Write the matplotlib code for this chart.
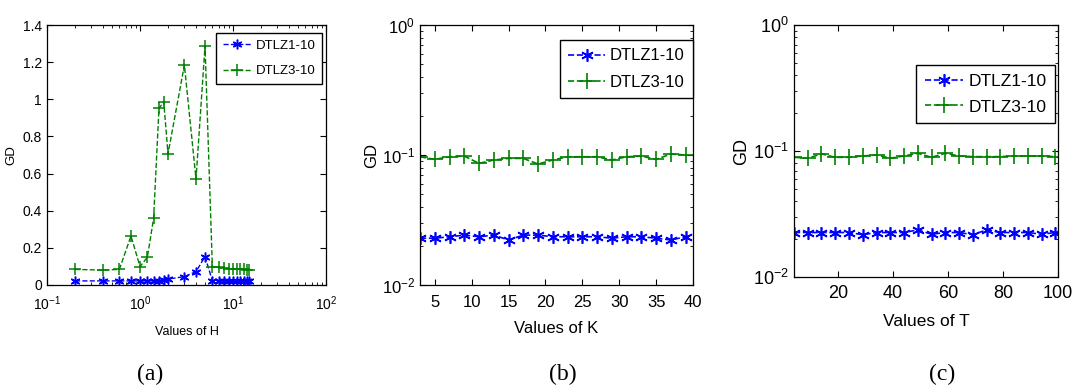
import numpy as np
import matplotlib
matplotlib.use("Agg")
import matplotlib.pyplot as plt

plt.rcParams['font.family'] = ['Liberation Sans', 'DejaVu Sans']
plt.rcParams['mathtext.fontset'] = 'custom'
plt.rcParams['mathtext.rm'] = 'Liberation Sans'
plt.rcParams['mathtext.default'] = 'rm'

# (a) values of H
h_vals = [0.2, 0.4, 0.6, 0.8, 1.0, 1.2, 1.4, 1.6, 1.8, 2, 3, 4, 5,
          6, 7, 8, 9, 10, 11, 12, 13, 14, 15]
h_dtlz1 = [0.022, 0.022, 0.022, 0.022, 0.022, 0.022, 0.022, 0.022, 0.027, 0.032,
           0.045, 0.072, 0.153, 0.022, 0.022, 0.022, 0.022, 0.022, 0.022, 0.022,
           0.022, 0.022, 0.022]
h_dtlz3 = [0.084, 0.080, 0.084, 0.264, 0.099, 0.149, 0.359, 0.951, 0.987, 0.706,
           1.185, 0.571, 1.287, 0.095, 0.095, 0.090, 0.088, 0.088, 0.087, 0.086,
           0.085, 0.083, 0.080]

# (b) values of K
k_vals = list(range(3, 40, 2))
k_dtlz1 = [0.0229, 0.0229, 0.0235, 0.0242, 0.0235, 0.0242, 0.0222, 0.0242, 0.0242, 0.0235,
           0.0235, 0.0235, 0.0235, 0.0229, 0.0235, 0.0235, 0.0229, 0.0222, 0.0235]
k_dtlz3 = [0.0970, 0.0926, 0.0970, 0.0981, 0.0863, 0.0916, 0.0942, 0.0942, 0.0853, 0.0916,
           0.0970, 0.0970, 0.0970, 0.0916, 0.0970, 0.0981, 0.0926, 0.1018, 0.1000]

# (c) values of T
t_vals = list(range(4, 100, 5))
t_dtlz1 = [0.0226, 0.0226, 0.0226, 0.0226, 0.0226, 0.0217, 0.0226, 0.0226, 0.0226, 0.0237,
           0.0219, 0.0226, 0.0226, 0.0217, 0.0237, 0.0226, 0.0226, 0.0226, 0.0219, 0.0226]
t_dtlz3 = [0.0893, 0.0878, 0.0950, 0.0893, 0.0893, 0.0915, 0.0932, 0.0878, 0.0915, 0.0961,
           0.0893, 0.0961, 0.0915, 0.0904, 0.0904, 0.0904, 0.0915, 0.0915, 0.0915, 0.0904]

blue = '#0000ff'
green = '#008000'
star = (6, 2, 0)  # matlab-like asterisk

fig = plt.figure(figsize=(10.75, 3.92), dpi=100)
ax_a = fig.add_axes([0.0437, 0.273, 0.2596, 0.663])
ax_b = fig.add_axes([0.3907, 0.273, 0.2540, 0.663])
ax_c = fig.add_axes([0.7386, 0.293, 0.2456, 0.643])


def style(ax, fs, xpad):
    ax.tick_params(direction='in', top=True, right=True, labelsize=fs, length=4)
    ax.tick_params(which='minor', direction='in', top=True, right=True, length=2)
    ax.tick_params(axis='x', pad=xpad)
    for s in ax.spines.values():
        s.set_linewidth(0.9)


def legend(ax, fs, anchor, spacing=0.6):
    ax.legend(loc='upper right', bbox_to_anchor=anchor, borderaxespad=0, fontsize=fs,
              fancybox=False, edgecolor='black', framealpha=1, handlelength=2.2,
              handletextpad=0.3, borderpad=0.5, labelspacing=spacing)


# panel (a)
ax_a.plot(h_vals, h_dtlz1, '--', color=blue, marker=star, ms=7, mew=1.1, lw=1, label='DTLZ1-10')
ax_a.plot(h_vals, h_dtlz3, '--', color=green, marker='+', ms=9, mew=1.1, lw=1, label='DTLZ3-10')
ax_a.set_xscale('log')
ax_a.set_xlim(0.1, 100)
ax_a.set_ylim(0, 1.4)
ax_a.set_yticks([0, 0.2, 0.4, 0.6, 0.8, 1, 1.2, 1.4])
ax_a.set_yticklabels(['0', '0.2', '0.4', '0.6', '0.8', '1', '1.2', '1.4'])
ax_a.yaxis.set_minor_locator(plt.NullLocator())
style(ax_a, 10, 7)
ax_a.set_xlabel('Values of H', fontsize=9, labelpad=9)
ax_a.set_ylabel('GD', fontsize=9.5, labelpad=4)
legend(ax_a, 9.5, (0.986, 0.969), spacing=1.0)

# panel (b)
ax_b.plot(k_vals, k_dtlz1, '--', color=blue, marker=star, ms=9, mew=1.2, lw=1.2, label='DTLZ1-10')
ax_b.plot(k_vals, k_dtlz3, '--', color=green, marker='+', ms=11, mew=1.2, lw=1.2, label='DTLZ3-10')
ax_b.set_yscale('log')
ax_b.set_xlim(3, 40)
ax_b.set_ylim(0.01, 1)
ax_b.set_xticks([5, 10, 15, 20, 25, 30, 35, 40])
style(ax_b, 12, 7)
ax_b.set_xlabel('Values of K', fontsize=12, labelpad=8)
ax_b.set_ylabel('GD', fontsize=12, labelpad=2)
legend(ax_b, 12, (1.0, 0.942), spacing=0.7)

# panel (c)
ax_c.plot(t_vals, t_dtlz1, '--', color=blue, marker=star, ms=9, mew=1.2, lw=1.2, label='DTLZ1-10')
ax_c.plot(t_vals, t_dtlz3, '--', color=green, marker='+', ms=11, mew=1.2, lw=1.2, label='DTLZ3-10')
ax_c.set_yscale('log')
ax_c.set_xlim(4, 100)
ax_c.set_ylim(0.01, 1)
ax_c.set_xticks([20, 40, 60, 80, 100])
style(ax_c, 13, 6)
ax_c.set_xlabel('Values of T', fontsize=12.5, labelpad=8)
ax_c.set_ylabel('GD', fontsize=13, labelpad=2)
legend(ax_c, 12.5, (0.989, 0.841))

for x, t in [(0.140, '(a)'), (0.524, '(b)'), (0.876, '(c)')]:
    fig.text(x, 0.045, t, ha='center', va='center', fontsize=17, family='Liberation Serif')

fig.savefig('out.png', dpi=100)
